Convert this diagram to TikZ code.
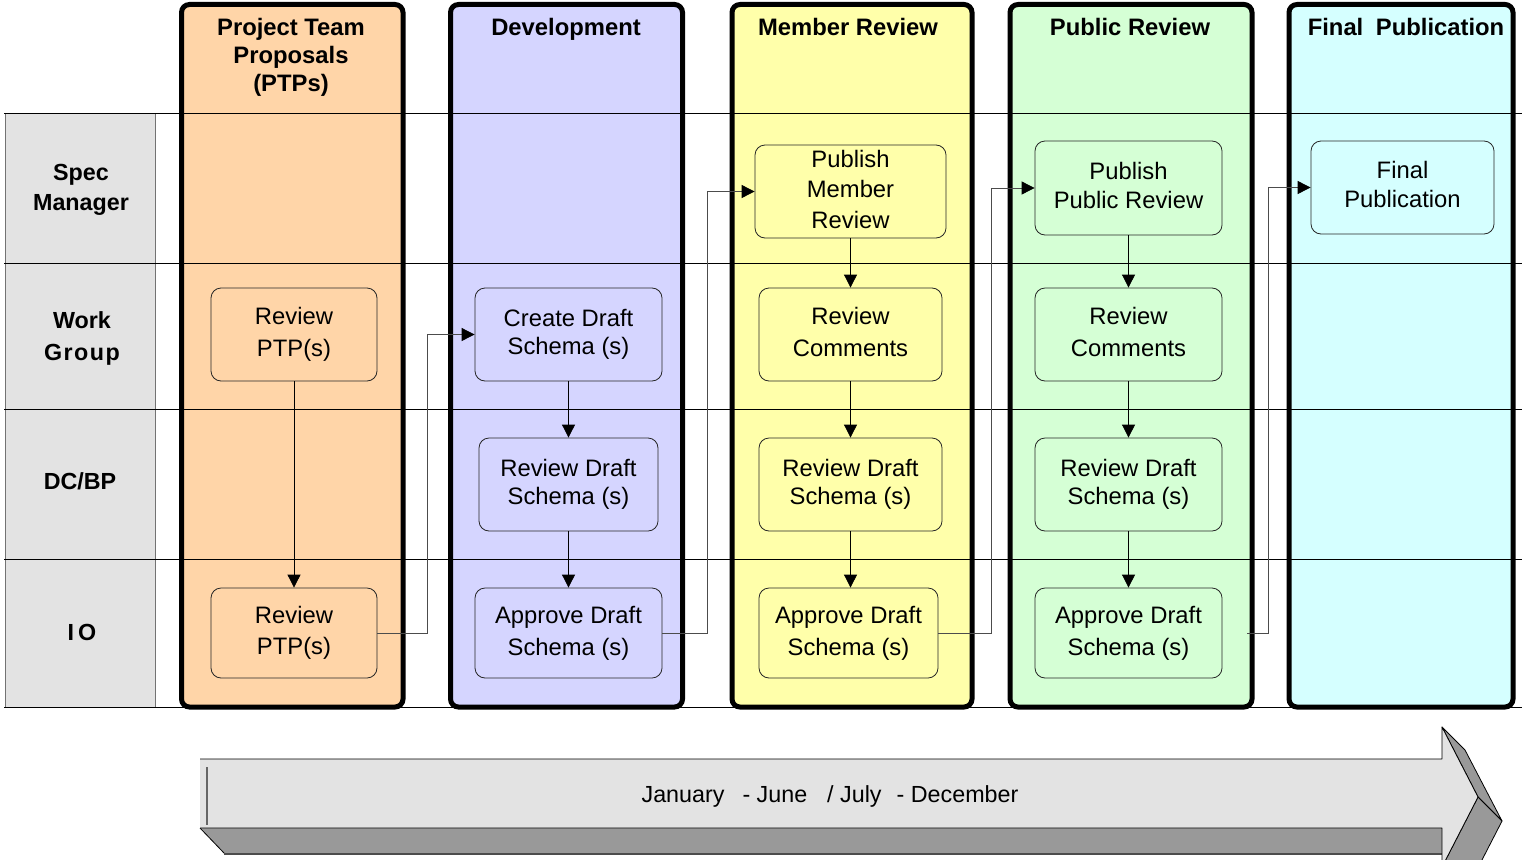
\documentclass[tikz,border=0pt]{standalone}
\usepackage{fontspec}
\setmainfont{Liberation Sans}
\usetikzlibrary{arrows.meta}
\definecolor{cOr}{HTML}{FFD5A8}
\definecolor{cLav}{HTML}{D5D5FF}
\definecolor{cYel}{HTML}{FFFFAA}
\definecolor{cGrn}{HTML}{D5FFD5}
\definecolor{cCya}{HTML}{D5FFFF}
\definecolor{cGray}{HTML}{E3E3E3}
\definecolor{cDark}{HTML}{999999}
\newcommand\ptxt[2][31]{{\fontsize{23.8pt}{#1pt}\selectfont\begin{tabular}{@{}c@{}}\rule{0pt}{\dimexpr0.7\baselineskip+12pt\relax}#2\end{tabular}}}
\begin{document}
\begin{tikzpicture}[x=1pt,y=-1pt,
  colfill/.style={draw=none,rounded corners=8pt},
  colborder/.style={draw=black,line width=5pt,rounded corners=8pt},
  hdr/.style={font=\fontsize{23.8pt}{28pt}\selectfont\bfseries,align=center,inner sep=0pt},
  lanelbl/.style={font=\fontsize{23.3pt}{30pt}\selectfont\bfseries,align=center,inner sep=0pt},
  proc/.style={draw=black!85,line width=0.8pt,rounded corners=10pt,inner sep=0pt},
  flow/.style={draw=black,line width=0.8pt,-{Triangle[length=13pt,width=13pt]}},
  elbow/.style={draw=black!70,line width=0.8pt,-{Triangle[length=13pt,width=13pt,color=black]}},
  face/.style={draw=black,line width=0.8pt,line join=round}
]
\useasboundingbox (0,0) rectangle (1522,859);
\clip (0,0) rectangle (1522,859);

% column fills
\fill[colfill,fill=cOr]  (181.5,4.5) rectangle (403,707);
\fill[colfill,fill=cLav] (450.5,4.5) rectangle (682.5,707);
\fill[colfill,fill=cYel] (732,4.5) rectangle (972,707);
\fill[colfill,fill=cGrn] (1010,4.5) rectangle (1252,707);
\fill[colfill,fill=cCya] (1289,4.5) rectangle (1513,707);

% lane label box
\draw[fill=cGray,draw=black!55,line width=0.8pt] (5,113) rectangle (155,707);

% lane lines
\foreach \yy in {113,263,409,559,707}
  \draw[black,line width=0.8pt] (4,\yy) -- (1522,\yy);

% column borders
\draw[colborder] (181.5,4.5) rectangle (403,707);
\draw[colborder] (450.5,4.5) rectangle (682.5,707);
\draw[colborder] (732,4.5) rectangle (972,707);
\draw[colborder] (1010,4.5) rectangle (1252,707);
\draw[colborder] (1289,4.5) rectangle (1513,707);

% headers
\node[hdr] (h1) at (291,57) {Project Team\\Proposals\\(PTPs)};
\node[hdr] (h2) at (566,29) {Development};
\node[hdr] (h3) at (848,27) {Member Review};
\node[hdr] (h4) at (1130,27) {Public Review};
\node[hdr] (h5) at (1406,27) {Final\hspace{6pt} Publication};

% lane labels
\node[lanelbl] (l1lbl) at (81,189.5) {Spec\\Manager};
\node[lanelbl,font=\fontsize{23.3pt}{32pt}\selectfont\bfseries] (l2lbl) at (82,338) {Work\\G\kern1.5pt r\kern1.5pt o\kern1.5pt u\kern1.5pt p};
\node[lanelbl] (l3lbl) at (80,481) {DC/BP};
\node[lanelbl] (l4lbl) at (82,632.5) {I\kern4pt O};

% process nodes
\node[proc,fill=cOr,minimum width=166pt,minimum height=93pt] (o1) at (294,334.5) {\ptxt[32]{Review\\PTP(s)}};
\node[proc,fill=cOr,minimum width=166pt,minimum height=90pt] (o2) at (294,633) {\ptxt[31]{Review\\PTP(s)}};

\node[proc,fill=cLav,minimum width=187pt,minimum height=93pt] (d1) at (568.5,334.5) {\ptxt[28]{Create Draft\\Schema (s)}};
\node[proc,fill=cLav,minimum width=179pt,minimum height=93pt] (d2) at (568.5,484.5) {\ptxt[28]{Review Draft\\Schema (s)}};
\node[proc,fill=cLav,minimum width=187pt,minimum height=90pt] (d3) at (568.5,633) {\ptxt[32]{Approve Draft\\Schema (s)}};

\node[proc,fill=cYel,minimum width=191pt,minimum height=93pt] (m1) at (850.5,191.5) {\ptxt[30.5]{Publish\\Member\\Review}};
\node[proc,fill=cYel,minimum width=183pt,minimum height=93pt] (m2) at (850.5,334.5) {\ptxt[32]{Review\\Comments}};
\node[proc,fill=cYel,minimum width=183pt,minimum height=93pt] (m3) at (850.5,484.5) {\ptxt[28]{Review Draft\\Schema (s)}};
\node[proc,fill=cYel,minimum width=179pt,minimum height=90pt] (m4) at (848.5,633) {\ptxt[32]{Approve Draft\\Schema (s)}};

\node[proc,fill=cGrn,minimum width=187pt,minimum height=94pt] (p1) at (1128.5,188) {\ptxt[29]{Publish\\Public Review}};
\node[proc,fill=cGrn,minimum width=187pt,minimum height=93pt] (p2) at (1128.5,334.5) {\ptxt[32]{Review\\Comments}};
\node[proc,fill=cGrn,minimum width=187pt,minimum height=93pt] (p3) at (1128.5,484.5) {\ptxt[28]{Review Draft\\Schema (s)}};
\node[proc,fill=cGrn,minimum width=187pt,minimum height=90pt] (p4) at (1128.5,633) {\ptxt[32]{Approve Draft\\Schema (s)}};

\node[proc,fill=cCya,minimum width=183pt,minimum height=93pt] (f1) at (1402.5,187.5) {\ptxt[29]{Final\\Publication}};

% vertical flows
\draw[flow] (o1.south) -- (o1.south |- o2.north);
\draw[flow] (d1.south) -- (d1.south |- d2.north);
\draw[flow] (d2.south) -- (d2.south |- d3.north);
\draw[flow] (m1.south) -- (m1.south |- m2.north);
\draw[flow] (m2.south) -- (m2.south |- m3.north);
\draw[flow] (m3.south) -- (m3.south |- m4.north);
\draw[flow] (p1.south) -- (p1.south |- p2.north);
\draw[flow] (p2.south) -- (p2.south |- p3.north);
\draw[flow] (p3.south) -- (p3.south |- p4.north);

% elbow connectors between phases
\draw[elbow] (o2.east) -- ++(50,0) |- (d1.west);
\draw[elbow] (d3.east) -- ++(45,0) |- (m1.west);
\draw[elbow] (m4.east) -- ++(53,0) |- (p1.west);
\coordinate (gx) at (1247,633);
\draw[elbow] (gx) -- ++(21,0) |- (f1.west);

% 3D timeline arrow
\fill[cDark] (200,828) -- (224,853) -- (1442,853) -- (1442,828) -- cycle;
\draw[black!70,line width=1.2pt] (224,854) -- (1442,854);
\draw[face] (200,828) -- (224,853);
\draw[face,fill=cDark] (1442,727) -- (1465,750) -- (1502,821) -- (1478,797) -- cycle;
\draw[face,fill=cDark] (1478,797) -- (1502,821) -- (1466,891) -- (1442,867) -- cycle;
\draw[face,fill=cGray] (200,759) -- (1442,759) -- (1442,727) -- (1478,797) -- (1442,867) -- (1442,828) -- (200,828);
\draw[black!60,line width=1.2pt] (207,767) -- (207,825);
\node[font=\fontsize{23.3pt}{28pt}\selectfont,inner sep=0pt] (tl) at (830,796)
  {January\hspace{18pt}- June\hspace{20pt}/ July\hspace{15pt}- December};
\end{tikzpicture}
\end{document}
